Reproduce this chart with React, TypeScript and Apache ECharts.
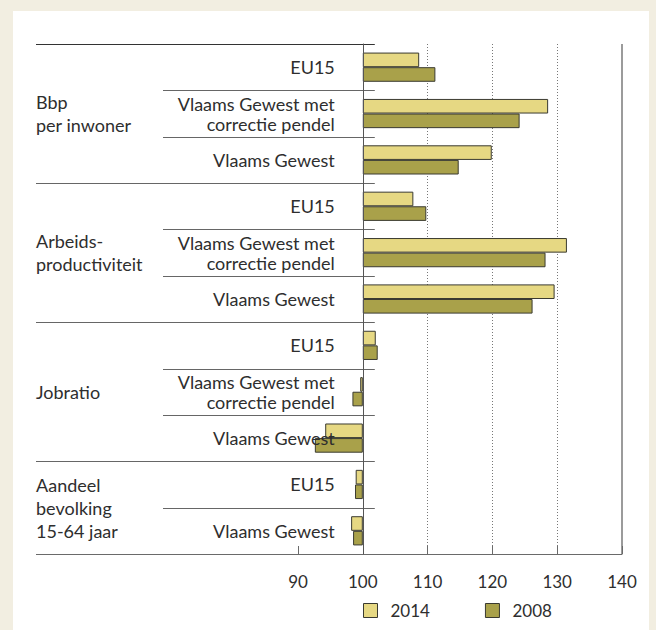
import React, { useEffect, useRef } from "react";
import * as echarts from "echarts";

const categories = [
  "EU15",
  "Vlaams Gewest met\ncorrectie pendel",
  "Vlaams Gewest",
  "EU15",
  "Vlaams Gewest met\ncorrectie pendel",
  "Vlaams Gewest",
  "EU15",
  "Vlaams Gewest met\ncorrectie pendel",
  "Vlaams Gewest",
  "EU15",
  "Vlaams Gewest",
];
const groupLabels = ["Bbp\nper inwoner", "Arbeids-\nproductiviteit", "Jobratio", "Aandeel\nbevolking\n15-64 jaar"];
const groupSizes = [3, 3, 3, 2];
const seriesNames = ["2014", "2008"];
const values2014 = [108.7, 128.6, 119.9, 107.8, 131.5, 129.6, 102.0, 99.6, 94.2, 98.9, 98.2];
const values2008 = [111.2, 124.2, 114.8, 109.8, 128.2, 126.2, 102.3, 98.4, 92.6, 98.8, 98.5];
const baseline = 100;
const axisMin = 90;
const axisMax = 140;
const axisInterval = 10;

const W = 656;
const H = 630;
const GRID_LEFT = 298;
const GRID_RIGHT = 34;
const GRID_TOP = 44;
const GRID_BOTTOM = 76;
const FONT = "Lato";
const TEXT = "#2e2e2e";
const C2014 = "#E6D883";
const C2008 = "#A9A14A";
const BORDER = "#3a3a30";

export default function App() {
  const ref = useRef<HTMLDivElement>(null);
  useEffect(() => {
    document.body.style.margin = "0";
    if (!ref.current) return;
    const chart = echarts.init(ref.current, undefined, { renderer: "svg" });
    const gridWidth = W - GRID_LEFT - GRID_RIGHT;
    const axisOffset = -((baseline - axisMin) / (axisMax - axisMin)) * gridWidth;

    const bases = (vals: number[]) => vals.map((v) => Math.min(v, baseline));
    const deltas = (vals: number[]) => vals.map((v) => Math.abs(v - baseline));
    const valueSets = [values2014, values2008];
    const colors = [C2014, C2008];

    const series: any[] = [];
    valueSets.forEach((vals, k) => {
      series.push({
        type: "bar",
        name: "base" + seriesNames[k],
        stack: "s" + k,
        data: bases(vals),
        itemStyle: { color: "transparent", borderWidth: 0 },
        barCategoryGap: "37%",
        barGap: "0%",
        silent: true,
      });
      series.push({
        type: "bar",
        name: seriesNames[k],
        stack: "s" + k,
        data: deltas(vals),
        itemStyle: { color: colors[k], borderColor: BORDER, borderWidth: 1 },
        barCategoryGap: "37%",
        barGap: "0%",
      });
    });

    chart.setOption({
      animation: false,
      backgroundColor: "#F2EEE1",
      textStyle: { fontFamily: FONT },
      grid: { left: GRID_LEFT, right: GRID_RIGHT, top: GRID_TOP, bottom: GRID_BOTTOM },
      legend: {
        data: seriesNames,
        left: 363,
        top: 602,
        padding: 0,
        icon: "rect",
        itemWidth: 14,
        itemHeight: 14,
        itemGap: 55,
        textStyle: { fontFamily: FONT, fontSize: 17, color: TEXT, padding: [0, 0, 0, 8] },
        itemStyle: { borderColor: BORDER, borderWidth: 1 },
        selectedMode: false,
      },
      xAxis: {
        type: "value",
        min: axisMin,
        max: axisMax,
        interval: axisInterval,
        axisLine: { show: true, lineStyle: { color: "#6a6a6a", width: 1 } },
        axisTick: { show: true, inside: true, length: 8, lineStyle: { color: "#6a6a6a" } },
        axisLabel: { fontFamily: FONT, fontSize: 17, color: TEXT, margin: 19 },
        splitLine: {
          show: true,
          showMinLine: false,
          showMaxLine: false,
          lineStyle: { color: "#777", type: [1, 2], width: 1 },
        },
      },
      yAxis: {
        type: "category",
        data: categories,
        inverse: true,
        offset: axisOffset,
        z: 10,
        axisLine: { show: true, lineStyle: { color: "#555", width: 1 } },
        axisTick: { show: false },
        axisLabel: {
          fontFamily: FONT,
          fontSize: 18,
          color: TEXT,
          margin: 28,
          lineHeight: 20,
          align: "right",
        },
        splitLine: { show: false },
      },
      series,
    });

    const yc = (i: number) => chart.convertToPixel({ yAxisIndex: 0 }, i) as number;
    const xc = (v: number) => chart.convertToPixel({ xAxisIndex: 0 }, v) as number;
    const band = Math.abs(yc(1) - yc(0));
    const boundary = (i: number) => yc(i) - band / 2;
    const x100 = xc(baseline);
    const xMin = xc(axisMin);
    const xMax = xc(axisMax);
    const yTop = boundary(0);
    const yBottom = boundary(categories.length);

    const graphics: any[] = [
      { type: "rect", z: -10, shape: { x: 13, y: 11, width: 636, height: H - 11 }, style: { fill: "#ffffff" }, silent: true },
      { type: "line", shape: { x1: xMax, y1: yTop, x2: xMax, y2: yBottom }, style: { stroke: "#7a7a7a", lineWidth: 1.5 }, silent: true },
      { type: "line", shape: { x1: 36, y1: yBottom + 0.5, x2: xMin, y2: yBottom + 0.5 }, style: { stroke: "#6a6a6a", lineWidth: 1 }, silent: true },
    ];
    let start = 0;
    groupSizes.forEach((size, g) => {
      const y0 = boundary(start);
      const y1 = boundary(start + size);
      graphics.push({
        type: "line",
        shape: { x1: 36, y1: Math.round(y0) + 0.5, x2: x100 + 12, y2: Math.round(y0) + 0.5 },
        style: { stroke: g === 0 ? "#333" : "#666", lineWidth: 1 },
        silent: true,
      });
      for (let i = start + 1; i < start + size; i++) {
        const y = Math.round(boundary(i)) + 0.5;
        graphics.push({
          type: "line",
          shape: { x1: 163, y1: y, x2: x100 + 12, y2: y },
          style: { stroke: "#666", lineWidth: 1 },
          silent: true,
        });
      }
      graphics.push({
        type: "text",
        x: 36,
        y: (y0 + y1) / 2,
        style: {
          text: groupLabels[g],
          fontFamily: FONT,
          fontSize: 18,
          fill: TEXT,
          lineHeight: 23,
          align: "left",
          verticalAlign: "middle",
        },
        silent: true,
      });
      start += size;
    });

    chart.setOption({ graphic: graphics });

    return () => chart.dispose();
  }, []);
  return <div ref={ref} style={{ width: W, height: H }} />;
}
